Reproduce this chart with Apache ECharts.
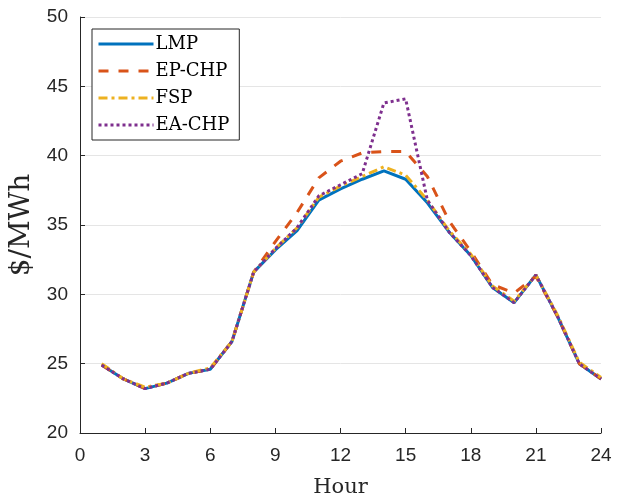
<!DOCTYPE html>
<html>
<head>
<meta charset="utf-8">
<script src="https://cdn.jsdelivr.net/npm/echarts@6/dist/echarts.min.js"></script>
<style>
  html, body { margin: 0; padding: 0; background: #fff; }
  #main { width: 621px; height: 498px; }
</style>
</head>
<body>
<div id="main"></div>
<script>
const hours = [1, 2, 3, 4, 5, 6, 7, 8, 9, 10, 11, 12, 13, 14, 15, 16, 17, 18, 19, 20, 21, 22, 23, 24];
const lmp = [24.9, 23.9, 23.2, 23.6, 24.3, 24.6, 26.6, 31.6, 33.2, 34.6, 36.8, 37.6, 38.3, 38.9, 38.3, 36.6, 34.5, 32.8, 30.5, 29.4, 31.4, 28.4, 25.0, 23.9];
const epChp = [24.9, 23.9, 23.2, 23.6, 24.3, 24.6, 26.6, 31.6, 33.8, 35.9, 38.4, 39.6, 40.2, 40.3, 40.3, 38.5, 35.3, 33.1, 30.7, 30.1, 31.3, 28.4, 25.0, 23.9];
const fsp = [25.0, 23.9, 23.3, 23.6, 24.3, 24.7, 26.6, 31.6, 33.3, 34.8, 37.0, 37.8, 38.5, 39.2, 38.6, 36.8, 34.6, 32.9, 30.6, 29.5, 31.4, 28.5, 25.1, 24.0];
const eaChp = [24.9, 23.9, 23.2, 23.6, 24.3, 24.6, 26.6, 31.6, 33.3, 34.8, 37.1, 37.9, 38.7, 43.8, 44.1, 36.8, 34.5, 32.8, 30.5, 29.4, 31.4, 28.4, 25.0, 23.9];

const axisColor = '#262626';
const serif = '"DejaVu Serif", "Liberation Serif", serif';
const sans = '"Liberation Sans", Arial, sans-serif';

// 把小时和数值拼成点
const pairs = (vals) => hours.map((h, i) => [h, vals[i]]);

const mkSeries = (name, vals, color, type) => ({
  name: name,
  type: 'line',
  symbol: 'none',
  data: pairs(vals),
  lineStyle: { color: color, width: 3, type: type, cap: 'butt' },
  itemStyle: { color: color },
  z: 2,
});

const myChart = echarts.init(document.getElementById('main'));
myChart.setOption({
  animation: false,
  grid: { left: 80, right: 20, top: 17, bottom: 65, outerBoundsMode: 'none', containLabel: false },
  legend: {
    orient: 'vertical',
    left: 92,
    top: 29,
    padding: [6, 10, 6, 5],
    itemGap: 9,
    itemWidth: 55,
    itemHeight: 15,
    backgroundColor: '#fff',
    borderColor: axisColor,
    borderWidth: 1,
    borderRadius: 0,
    itemStyle: { opacity: 0 },
    lineStyle: { width: 3 },
    textStyle: { fontFamily: serif, fontSize: 18, color: '#000', padding: [0, 0, 0, -3] },
    data: ['LMP', 'EP-CHP', 'FSP', 'EA-CHP'],
  },
  xAxis: {
    type: 'value',
    min: 0,
    max: 24,
    interval: 3,
    name: 'Hour',
    nameLocation: 'middle',
    nameGap: 44,
    nameTextStyle: { fontFamily: serif, fontSize: 21, color: axisColor },
    axisLine: { lineStyle: { color: axisColor, width: 1 } },
    axisTick: { inside: true, length: 5, lineStyle: { color: axisColor } },
    axisLabel: { fontSize: 19, color: axisColor, margin: 13, fontFamily: sans },
    splitLine: { show: false },
  },
  yAxis: {
    type: 'value',
    min: 20,
    max: 50,
    interval: 5,
    name: '$/MWh',
    nameLocation: 'middle',
    nameRotate: 90,
    nameGap: 44,
    nameTextStyle: { fontFamily: serif, fontSize: 28, color: axisColor },
    axisLine: { show: true, lineStyle: { color: axisColor, width: 1 } },
    axisTick: { show: true, inside: true, length: 5, lineStyle: { color: axisColor } },
    axisLabel: { fontSize: 19, color: axisColor, margin: 12, fontFamily: sans },
    splitLine: { show: true, lineStyle: { color: '#e5e5e5', width: 1 } },
  },
  series: [
    mkSeries('LMP', lmp, '#0072BD', 'solid'),
    mkSeries('EP-CHP', epChp, '#D95319', [10, 10]),
    mkSeries('FSP', fsp, '#EDB120', [9, 4, 3, 4]),
    mkSeries('EA-CHP', eaChp, '#7E2F8E', [3, 3]),
  ],
});
</script>
</body>
</html>
